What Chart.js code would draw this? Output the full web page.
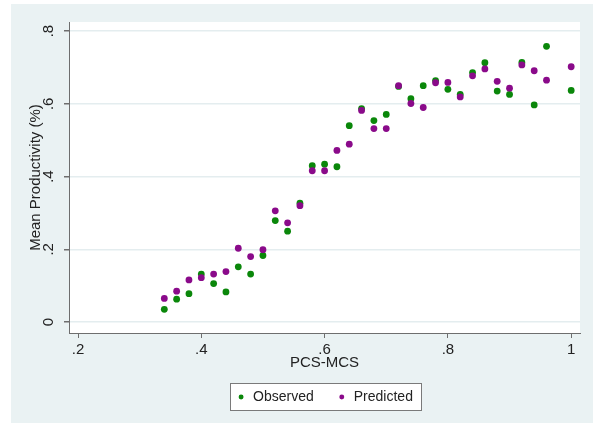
<!DOCTYPE html>
<html>
<head>
<meta charset="utf-8">
<script src="https://cdn.jsdelivr.net/npm/chart.js@4/dist/chart.umd.min.js"></script>
<style>
  html, body { margin: 0; padding: 0; background: #ffffff; }
  #wrap { position: absolute; left: 11px; top: 4px; width: 582px; height: 419px; background: #eaf2f3; }
</style>
</head>
<body>
<div id="wrap"><canvas id="chart" width="582" height="419"></canvas></div>
<script>
// PCS-MCS values (0.98 has no point)
const pcsMcs = [0.34, 0.36, 0.38, 0.40, 0.42, 0.44, 0.46, 0.48, 0.50, 0.52, 0.54,
  0.56, 0.58, 0.60, 0.62, 0.64, 0.66, 0.68, 0.70, 0.72, 0.74, 0.76, 0.78, 0.80,
  0.82, 0.84, 0.86, 0.88, 0.90, 0.92, 0.94, 0.96, 1.00];

const observed = [0.035, 0.063, 0.078, 0.132, 0.106, 0.083, 0.152, 0.132, 0.183, 0.279, 0.250,
  0.327, 0.430, 0.434, 0.427, 0.540, 0.587, 0.554, 0.571, 0.648, 0.614, 0.650, 0.664, 0.640,
  0.626, 0.686, 0.713, 0.635, 0.626, 0.714, 0.597, 0.758, 0.637];

const predicted = [0.065, 0.085, 0.116, 0.122, 0.132, 0.139, 0.203, 0.180, 0.199, 0.306, 0.273,
  0.320, 0.416, 0.416, 0.472, 0.489, 0.582, 0.532, 0.532, 0.650, 0.601, 0.590, 0.658, 0.659,
  0.619, 0.677, 0.696, 0.662, 0.643, 0.707, 0.691, 0.665, 0.702];

const xTicks = [0.2, 0.4, 0.6, 0.8, 1.0];
const yTicks = [0, 0.2, 0.4, 0.6, 0.8];

function toPoints(ys) {
  return pcsMcs.map((x, i) => ({ x: x, y: ys[i] }));
}

// stata style labels: .2 .4 ... 0 1
function stataLabel(v) {
  let s = String(Number(v.toFixed(2)));
  return s.replace(/^0\./, ".");
}

const FONT = "'Liberation Sans', Arial, sans-serif";
const axisColor = "#6e6e6e";

// white plot region + box round the legend
const backdrop = {
  id: "backdrop",
  beforeDraw(chart) {
    const ctx = chart.ctx;
    const a = chart.chartArea;
    ctx.save();
    ctx.fillStyle = "#ffffff";
    ctx.fillRect(a.left, a.top, a.right - a.left, a.bottom - a.top);
    const boxes = chart.legend && chart.legend.legendHitBoxes;
    if (boxes && boxes.length) {
      const first = boxes[0];
      const last = boxes[boxes.length - 1];
      const x0 = Math.round(first.left - 6) + 0.5;
      const x1 = Math.round(last.left + last.width + 8) + 0.5;
      const y0 = Math.round(first.top - 7) + 0.5;
      const y1 = Math.round(first.top + first.height + 6) + 0.5;
      ctx.fillRect(x0, y0, x1 - x0, y1 - y0);
      ctx.strokeStyle = "#7a7a7a";
      ctx.lineWidth = 1;
      ctx.strokeRect(x0, y0, x1 - x0, y1 - y0);
    }
    ctx.restore();
  }
};

new Chart(document.getElementById("chart"), {
  type: "scatter",
  data: {
    datasets: [
      {
        label: "Observed",
        data: toPoints(observed),
        backgroundColor: "#0a870a",
        borderColor: "#0a870a",
        pointRadius: 3.4,
        borderWidth: 0,
        order: 2
      },
      {
        label: "Predicted",
        data: toPoints(predicted),
        backgroundColor: "#8a0a8a",
        borderColor: "#8a0a8a",
        pointRadius: 3.4,
        borderWidth: 0,
        order: 1
      }
    ]
  },
  options: {
    responsive: false,
    animation: false,
    layout: { padding: { top: 16, right: 13, left: 0, bottom: 9 } },
    scales: {
      x: {
        type: "linear",
        min: 0.1854,
        max: 1.0143,
        afterBuildTicks: s => { s.ticks = xTicks.map(v => ({ value: v })); },
        afterFit: s => { s.height = 34; },
        grid: { drawOnChartArea: false, tickLength: 5, tickColor: axisColor },
        border: { color: axisColor, width: 1 },
        ticks: {
          padding: 3,
          maxRotation: 0,
          color: "#222",
          font: { family: FONT, size: 15 },
          callback: v => stataLabel(v)
        },
        title: {
          display: true,
          text: "PCS-MCS",
          color: "#222",
          font: { family: FONT, size: 15 },
          padding: { top: 0, bottom: -5 }
        }
      },
      y: {
        type: "linear",
        min: -0.030,
        max: 0.825,
        afterBuildTicks: s => { s.ticks = yTicks.map(v => ({ value: v })); },
        afterFit: s => { s.width = 58; },
        grid: { color: "#e4edef", lineWidth: 1.5, tickLength: 5, tickColor: axisColor },
        border: { color: axisColor, width: 1 },
        ticks: {
          padding: 9,
          minRotation: 90,
          maxRotation: 90,
          crossAlign: "center",
          color: "#222",
          font: { family: FONT, size: 15 },
          callback: v => stataLabel(v)
        },
        title: {
          display: true,
          text: "Mean Productivity (%)",
          color: "#222",
          font: { family: FONT, size: 15 },
          padding: { top: 16, bottom: 0 }
        }
      }
    },
    plugins: {
      legend: {
        position: "bottom",
        fullSize: false,
        labels: {
          usePointStyle: true,
          pointStyle: "circle",
          boxWidth: 10,
          boxHeight: 3.5,
          padding: 23,
          color: "#222",
          font: { family: FONT, size: 14 },
          sort: (a, b) => a.datasetIndex - b.datasetIndex
        }
      },
      tooltip: { enabled: false }
    }
  },
  plugins: [backdrop]
});
</script>
</body>
</html>
